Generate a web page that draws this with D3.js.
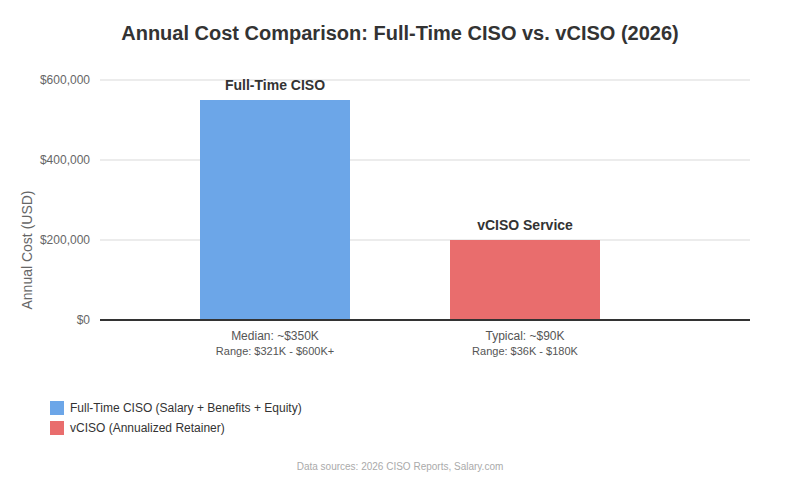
<!DOCTYPE html>
<html lang="en">
<head>
    <meta charset="UTF-8">
    <title>Annual Cost Comparison</title>
    <script src="https://d3js.org/d3.v7.min.js"></script>
    <style>
        body { margin: 0; background: #fff; font-family: "Liberation Sans", Arial, sans-serif; }
    </style>
</head>
<body>
    <div id="chart-container"></div>
    <script>
        // chart data
        const categories = ["Full-Time CISO", "vCISO Service"];
        const costs = [550000, 200000];
        const colors = ["#6ca6e8", "#e96d6d"];
        const subLine1 = ["Median: ~$350K", "Typical: ~$90K"];
        const subLine2 = ["Range: $321K - $600K+", "Range: $36K - $180K"];
        const legendLabels = ["Full-Time CISO (Salary + Benefits + Equity)", "vCISO (Annualized Retainer)"];
        const yTicks = [0, 200000, 400000, 600000];

        const W = 800, H = 500;
        const plot = { left: 100, right: 750, top: 80, bottom: 320 };

        const svg = d3.select("#chart-container")
            .append("svg")
            .attr("width", W)
            .attr("height", H);

        const x = d3.scaleBand()
            .domain(categories)
            .range([150, 650])
            .paddingInner(0.4)
            .paddingOuter(0.2);

        const y = d3.scaleLinear()
            .domain([0, 600000])
            .range([plot.bottom, plot.top]);

        // title
        svg.append("text")
            .attr("x", W / 2)
            .attr("y", 40)
            .attr("text-anchor", "middle")
            .style("font-size", "20px")
            .style("font-weight", "bold")
            .style("fill", "#333")
            .text("Annual Cost Comparison: Full-Time CISO vs. vCISO (2026)");

        // gridlines
        svg.append("g")
            .selectAll("line")
            .data(yTicks.filter(d => d > 0))
            .enter()
            .append("line")
            .attr("x1", plot.left)
            .attr("x2", plot.right)
            .attr("y1", d => y(d))
            .attr("y2", d => y(d))
            .style("stroke", "#ececec")
            .style("stroke-width", 2);

        // y axis
        const yAxis = svg.append("g")
            .attr("transform", `translate(${plot.left},0)`)
            .call(d3.axisLeft(y).tickValues(yTicks).tickSize(0).tickPadding(10)
                .tickFormat(d => "$" + d3.format(",")(d)));
        yAxis.select(".domain").remove();
        yAxis.selectAll("text")
            .style("font-family", "Liberation Sans, Arial, sans-serif")
            .style("font-size", "12px")
            .style("fill", "#666");

        svg.append("text")
            .attr("transform", "rotate(-90)")
            .attr("x", -250)
            .attr("y", 32)
            .attr("text-anchor", "middle")
            .style("font-size", "14px")
            .style("fill", "#666")
            .text("Annual Cost (USD)");

        // bars
        svg.selectAll(".bar")
            .data(categories)
            .enter()
            .append("rect")
            .attr("class", "bar")
            .attr("x", d => x(d))
            .attr("width", x.bandwidth())
            .attr("y", (d, i) => y(costs[i]))
            .attr("height", (d, i) => y(0) - y(costs[i]))
            .style("fill", (d, i) => colors[i]);

        // baseline
        svg.append("line")
            .attr("x1", plot.left)
            .attr("x2", plot.right)
            .attr("y1", y(0))
            .attr("y2", y(0))
            .style("stroke", "#333")
            .style("stroke-width", 2);

        // bar labels
        svg.selectAll(".bar-label")
            .data(categories)
            .enter()
            .append("text")
            .attr("x", d => x(d) + x.bandwidth() / 2)
            .attr("y", (d, i) => y(costs[i]) - 10)
            .attr("text-anchor", "middle")
            .style("font-size", "14px")
            .style("font-weight", "bold")
            .style("fill", "#333")
            .text(d => d);

        // notes below bars
        svg.selectAll(".note1")
            .data(categories)
            .enter()
            .append("text")
            .attr("x", d => x(d) + x.bandwidth() / 2)
            .attr("y", 340)
            .attr("text-anchor", "middle")
            .style("font-size", "12px")
            .style("fill", "#555")
            .text((d, i) => subLine1[i]);

        svg.selectAll(".note2")
            .data(categories)
            .enter()
            .append("text")
            .attr("x", d => x(d) + x.bandwidth() / 2)
            .attr("y", 355)
            .attr("text-anchor", "middle")
            .style("font-size", "11px")
            .style("fill", "#555")
            .text((d, i) => subLine2[i]);

        // legend
        const legend = svg.append("g").attr("transform", "translate(50,401)");
        legendLabels.forEach(function(label, i) {
            legend.append("rect")
                .attr("x", 0)
                .attr("y", i * 20)
                .attr("width", 14)
                .attr("height", 14)
                .style("fill", colors[i]);
            legend.append("text")
                .attr("x", 20)
                .attr("y", i * 20 + 11)
                .style("font-size", "12px")
                .style("fill", "#333")
                .text(label);
        });

        // footer
        svg.append("text")
            .attr("x", W / 2)
            .attr("y", 470)
            .attr("text-anchor", "middle")
            .style("font-size", "10px")
            .style("fill", "#aaa")
            .text("Data sources: 2026 CISO Reports, Salary.com");
    </script>
</body>
</html>
